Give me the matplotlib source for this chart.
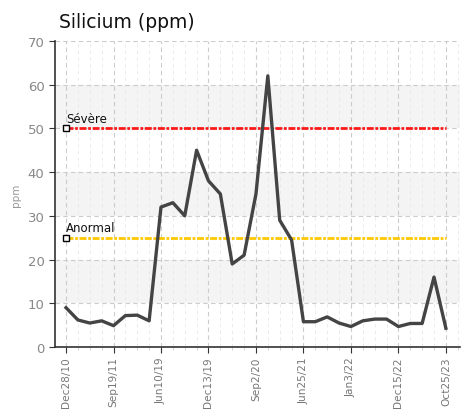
import numpy as np
import matplotlib.pyplot as plt
from matplotlib.ticker import MultipleLocator

# valeurs (33 prélèvements, étiquette tous les 4)
silicium = [9, 6.2, 5.5, 6.0, 4.9, 7.2, 7.3, 6.0, 32, 33, 30, 45, 38, 35, 19, 21,
            35, 62, 29, 24.5, 5.8, 5.8, 6.9, 5.5, 4.7, 6.0, 6.4, 6.4, 4.7, 5.4,
            5.4, 16, 4.3]
tick_labels = ["Dec28/10", "Sep19/11", "Jun10/19", "Dec13/19", "Sep2/20",
               "Jun25/21", "Jan3/22", "Dec15/22", "Oct25/23"]
seuils = [50, 25]
seuil_noms = ["Sévère", "Anormal"]
seuil_couleurs = ["#ff1a1a", "#ffc800"]

plt.rcParams['font.family'] = ['DejaVu Sans']
fig = plt.figure(figsize=(4.7, 4.1), dpi=100)
ax = fig.add_axes([0.117, 0.151, 0.862, 0.747])

x = np.arange(len(silicium))
n = len(silicium)

# bandes grises alternées
for y0 in range(10, 70, 20):
    ax.axhspan(y0, y0 + 10, color="#f4f4f4", zorder=0, lw=0)

ax.plot(x, silicium, color="#444444", lw=2.4, zorder=4, solid_joinstyle="round")

for s, nom, c in zip(seuils, seuil_noms, seuil_couleurs):
    ax.plot([0, n - 1], [s, s], color=c, lw=2, dashes=(2.5, 0.6, 1, 0.6), zorder=3)
    ax.plot([0], [s], marker="s", ms=4, mfc="white", mec="black", mew=1, zorder=5)
    ax.text(0, s + 0.8, nom, fontsize=8.5, color="#111111",
            ha="left", va="bottom", zorder=5)

ax.set_xlim(-0.93, 33.2)
ax.set_ylim(0, 70)
ax.set_xticks(x[::4])
ax.set_xticklabels(tick_labels, rotation=90, color="#777777", fontsize=7.6)
ax.xaxis.set_minor_locator(MultipleLocator(1))
ax.yaxis.set_major_locator(MultipleLocator(10))
ax.tick_params(axis="y", labelcolor="#888888", labelsize=9.5, length=4, color="#333333")
ax.tick_params(axis="x", length=4, pad=2.5, color="#333333")
ax.tick_params(axis="x", which="minor", length=2, color="#cccccc")
ax.grid(True, which="major", color="#cccccc", ls=(0, (4, 3)), lw=0.8)
ax.grid(True, which="minor", axis="x", color="#e8e8e8", ls=(0, (4, 4)), lw=0.6)
ax.set_axisbelow(True)

for sp in ["top", "right"]:
    ax.spines[sp].set_visible(False)
for sp in ["left", "bottom"]:
    ax.spines[sp].set_color("#333333")
    ax.spines[sp].set_linewidth(1.2)

ax.set_ylabel("ppm", color="#999999", fontsize=7.5, labelpad=5)
fig.text(0.125, 0.932, "Silicium (ppm)", fontsize=13.5, color="#111111", ha="left")

fig.savefig("out.png", dpi=100)
